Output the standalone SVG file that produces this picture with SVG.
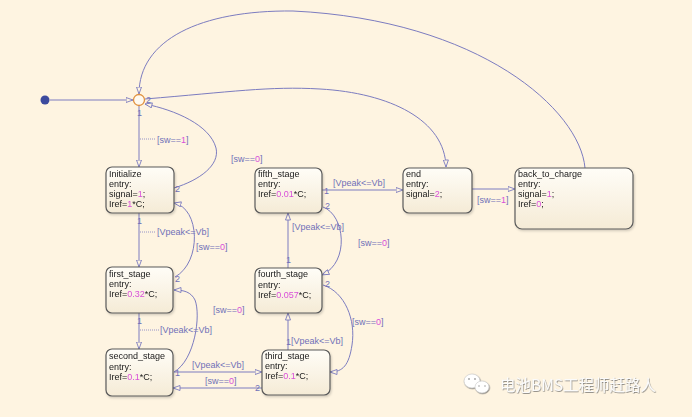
<svg xmlns="http://www.w3.org/2000/svg" width="692" height="417" viewBox="0 0 692 417">
<style>
.st{fill:url(#sg);stroke:#5a5a5a;stroke-width:1.2}
.tx{font-family:"Liberation Sans",Arial,sans-serif;font-size:9px;fill:#1a1a1a}
.lb{font-family:"Liberation Sans",Arial,sans-serif;font-size:9px;fill:#7070b8}
.m{fill:#d94fd9}
.c{fill:none;stroke:#7c7cc0;stroke-width:1}
.d{fill:none;stroke:#7c7cc0;stroke-width:0.8;stroke-dasharray:1 1}
</style>
<defs>
<linearGradient id="sg" x1="0" y1="0" x2="0" y2="1">
<stop offset="0" stop-color="#fffdf7"/>
<stop offset="1" stop-color="#f5ebd6"/>
</linearGradient>
<filter id="sh" x="-10%" y="-10%" width="130%" height="130%">
<feDropShadow dx="1" dy="1.5" stdDeviation="1" flood-color="#000" flood-opacity="0.18"/>
</filter>
<filter id="ws" x="-5%" y="-20%" width="115%" height="150%">
<feDropShadow dx="0.6" dy="0.8" stdDeviation="0.5" flood-color="#555" flood-opacity="0.75"/>
</filter>
<marker id="a" viewBox="0 0 8 6" refX="7.5" refY="3" markerWidth="8" markerHeight="6" markerUnits="userSpaceOnUse" orient="auto">
<path d="M0.5,0.5 L7.5,3 L0.5,5.5 Z" fill="#fef4e1" stroke="#7c7cc0" stroke-width="0.9"/>
</marker>
</defs>
<rect width="692" height="417" fill="#fef4e1"/>

<g id="connectors">
<path class="c" d="M50,100 L133,100" marker-end="url(#a)"/>
<path class="c" d="M585,168 C580,110 480,20 293,11 C200,10 139,40 139,94" marker-end="url(#a)"/>
<path class="c" d="M145,99 C230,92 270,86 320,89 C390,93 445,120 446,167" marker-end="url(#a)"/>
<path class="c" d="M139,106 L139,167" marker-end="url(#a)"/>
<path class="c" d="M174,188 C200,180 220,165 216,148 C210,125 175,110 145,104" marker-end="url(#a)"/>
<path class="c" d="M139,213 L139,267" marker-end="url(#a)"/>
<path class="c" d="M175,277 C202,262 200,208 174,203" marker-end="url(#a)"/>
<path class="c" d="M139,313 L139,349" marker-end="url(#a)"/>
<path class="c" d="M174,372 C195,360 201,315 195,300 C191,292 184,290 174,290" marker-end="url(#a)"/>
<path class="c" d="M174,372 L262,372" marker-end="url(#a)"/>
<path class="c" d="M262,388 L173,388" marker-end="url(#a)"/>
<path class="c" d="M288,350 L288,313" marker-end="url(#a)"/>
<path class="c" d="M288,268 L288,213" marker-end="url(#a)"/>
<path class="c" d="M323,207 C345,215 350,262 322,275" marker-end="url(#a)"/>
<path class="c" d="M323,285 C345,292 356,320 352,345 C349,365 343,372 330,372" marker-end="url(#a)"/>
<path class="c" d="M322,190 L403,190" marker-end="url(#a)"/>
<path class="c" d="M472,189 L515,189" marker-end="url(#a)"/>
<path class="d" d="M140,139 L156,139"/>
<path class="d" d="M140,232 L156,232"/>
<path class="d" d="M140,330 L159,330"/>
<text class="lb" x="157" y="143">[sw==<tspan class="m">1</tspan>]</text>
<text class="lb" x="231" y="162">[sw==<tspan class="m">0</tspan>]</text>
<text class="lb" x="157" y="235">[Vpeak&lt;=Vb]</text>
<text class="lb" x="196" y="250">[sw==<tspan class="m">0</tspan>]</text>
<text class="lb" x="160" y="333">[Vpeak&lt;=Vb]</text>
<text class="lb" x="213" y="313">[sw==<tspan class="m">0</tspan>]</text>
<text class="lb" x="192" y="368">[Vpeak&lt;=Vb]</text>
<text class="lb" x="205" y="384">[sw==<tspan class="m">0</tspan>]</text>
<text class="lb" x="291" y="344">[Vpeak&lt;=Vb]</text>
<text class="lb" x="292" y="230">[Vpeak&lt;=Vb]</text>
<text class="lb" x="358" y="246">[sw==<tspan class="m">0</tspan>]</text>
<text class="lb" x="352" y="325">[sw==<tspan class="m">0</tspan>]</text>
<text class="lb" x="333" y="186">[Vpeak&lt;=Vb]</text>
<text class="lb" x="477" y="203">[sw==<tspan class="m">1</tspan>]</text>
<text class="lb" x="137" y="116">1</text>
<text class="lb" x="146" y="103">2</text>
<text class="lb" x="137" y="224">1</text>
<text class="lb" x="175" y="192">2</text>
<text class="lb" x="137" y="324">1</text>
<text class="lb" x="175" y="282">2</text>
<text class="lb" x="175" y="376">1</text>
<text class="lb" x="255" y="391">2</text>
<text class="lb" x="286" y="345">1</text>
<text class="lb" x="286" y="263">1</text>
<text class="lb" x="325" y="287">2</text>
<text class="lb" x="324" y="194">1</text>
<text class="lb" x="325" y="209">2</text>
</g>

<g id="default">
<circle cx="45" cy="100" r="4.5" fill="#3c4a9e"/>
</g>
<g id="junction">
<circle cx="139" cy="100" r="5.5" fill="#fffaf0" stroke="#e0913f" stroke-width="1.3"/>
</g>

<g id="Initialize" filter="url(#sh)">
<rect class="st" x="106" y="167" width="68" height="46" rx="6"/>
<text class="tx" x="109" y="177">Initialize</text>
<text class="tx" x="109" y="187">entry:</text>
<text class="tx" x="109" y="197">signal=<tspan class="m">1</tspan>;</text>
<text class="tx" x="109" y="207">Iref=<tspan class="m">1</tspan>*C;</text>
</g>
<g id="first_stage" filter="url(#sh)">
<rect class="st" x="106" y="267" width="67" height="46" rx="6"/>
<text class="tx" x="109" y="277">first_stage</text>
<text class="tx" x="109" y="287">entry:</text>
<text class="tx" x="109" y="297">Iref=<tspan class="m">0.32</tspan>*C;</text>
</g>
<g id="second_stage" filter="url(#sh)">
<rect class="st" x="106" y="349" width="67" height="47" rx="6"/>
<text class="tx" x="109" y="359">second_stage</text>
<text class="tx" x="109" y="370">entry:</text>
<text class="tx" x="109" y="380">Iref=<tspan class="m">0.1</tspan>*C;</text>
</g>
<g id="third_stage" filter="url(#sh)">
<rect class="st" x="262" y="350" width="68" height="45" rx="6"/>
<text class="tx" x="265" y="359">third_stage</text>
<text class="tx" x="265" y="369">entry:</text>
<text class="tx" x="265" y="379">Iref=<tspan class="m">0.1</tspan>*C;</text>
</g>
<g id="fourth_stage" filter="url(#sh)">
<rect class="st" x="255" y="268" width="67" height="45" rx="6"/>
<text class="tx" x="258" y="277">fourth_stage</text>
<text class="tx" x="258" y="288">entry:</text>
<text class="tx" x="258" y="298">Iref=<tspan class="m">0.057</tspan>*C;</text>
</g>
<g id="fifth_stage" filter="url(#sh)">
<rect class="st" x="255" y="168" width="67" height="45" rx="6"/>
<text class="tx" x="258" y="177">fifth_stage</text>
<text class="tx" x="258" y="187">entry:</text>
<text class="tx" x="258" y="197">Iref=<tspan class="m">0.01</tspan>*C;</text>
</g>
<g id="end" filter="url(#sh)">
<rect class="st" x="403" y="168" width="69" height="45" rx="6"/>
<text class="tx" x="406" y="177">end</text>
<text class="tx" x="406" y="187">entry:</text>
<text class="tx" x="406" y="197">signal=<tspan class="m">2</tspan>;</text>
</g>
<g id="back_to_charge" filter="url(#sh)">
<rect class="st" x="515" y="168" width="118" height="61" rx="7"/>
<text class="tx" x="518" y="177">back_to_charge</text>
<text class="tx" x="518" y="187">entry:</text>
<text class="tx" x="518" y="197">signal=<tspan class="m">1</tspan>;</text>
<text class="tx" x="518" y="207">Iref=<tspan class="m">0</tspan>;</text>
</g>

<g id="watermark" filter="url(#ws)">
<ellipse cx="472" cy="381" rx="8" ry="7" fill="#ffffff" stroke="#c8c8c8" stroke-width="0.6"/>
<ellipse cx="482" cy="387" rx="7" ry="6" fill="#ffffff" stroke="#c8c8c8" stroke-width="0.6"/>
<circle cx="469" cy="379" r="0.9" fill="#a0a0a0"/>
<circle cx="475" cy="379" r="0.9" fill="#a0a0a0"/>
<circle cx="479" cy="386" r="0.8" fill="#a0a0a0"/>
<circle cx="485" cy="386" r="0.8" fill="#a0a0a0"/>
<text x="500" y="391" font-family="'Noto Sans CJK SC','Noto Sans',sans-serif" font-size="15.5" fill="#fbfbfb">电池BMS工程师赶路人</text>
</g>
</svg>
